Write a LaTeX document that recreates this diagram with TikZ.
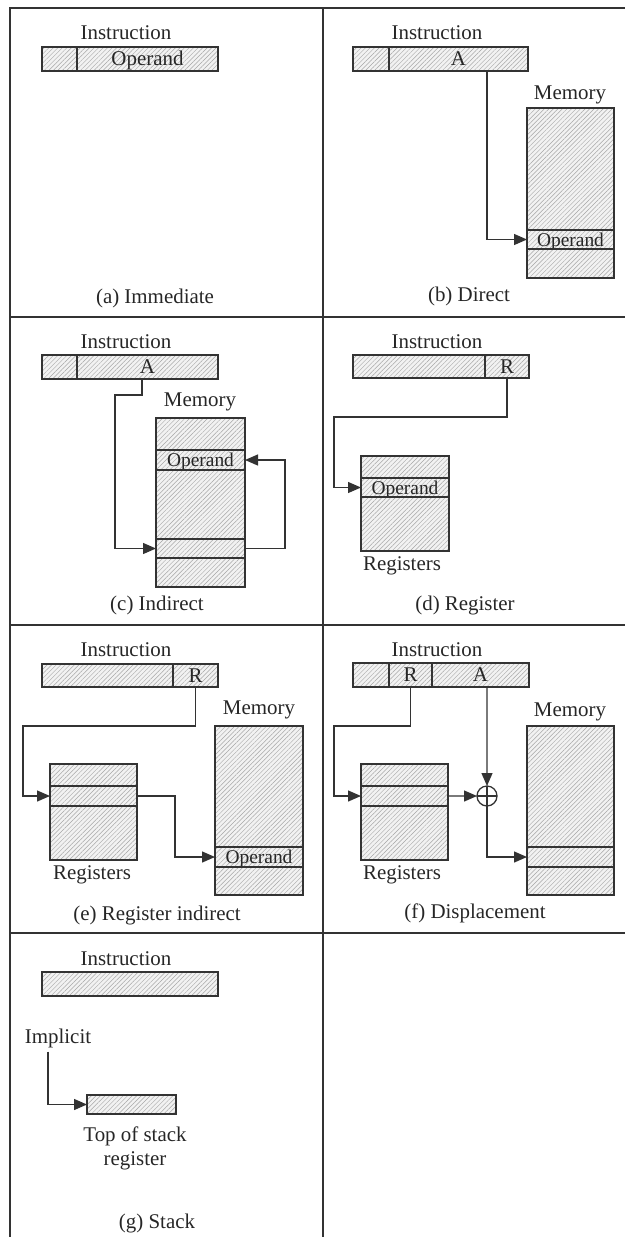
\documentclass[tikz,border=0pt]{standalone}
\usepackage{fontspec}
\setmainfont{Liberation Serif}
\usetikzlibrary{patterns.meta,arrows.meta}
\newcommand\figfont{\fontsize{21}{24}\selectfont}
\newcommand\mkfld[6]{%
 \pgfmathsetmacro\fldw{#4-#2}\pgfmathsetmacro\fldh{#5-#3}%
 \node[fld,minimum width=\fldw bp,minimum height=\fldh bp,anchor=north west] (#1) at (#2,#3) {#6};}
\begin{document}
\begin{tikzpicture}[x=1bp,y=-1bp,
  ln/.style={draw=black!80,line width=1.3bp},
  fr/.style={draw=black!80,line width=2.6bp},
  fld/.style={ln,rectangle,inner sep=0pt,outer sep=0pt,
    preaction={fill=black!5},
    pattern={Lines[angle=45,distance=3.2bp,line width=0.45bp]},pattern color=black!35,
    text=black!85,font=\figfont,text height=13.5bp,text depth=0bp},
  mfld/.style={fld,font=\fontsize{19.5}{22}\selectfont},
  lbl/.style={inner sep=0pt,text=black!85,font=\figfont},
  arr/.style={ln,-{Triangle[length=13bp,width=11bp]}}]
\useasboundingbox (0,0) rectangle (625,1237);
% frame
\draw[fr] (10,1237) -- (10,8) -- (625,8);
\draw[fr] (323,8) -- (323,1237);
\draw[fr] (10,317) -- (625,317);
\draw[fr] (10,625) -- (625,625);
\draw[fr] (10,933) -- (625,933);

% (a) Immediate
\node[lbl] (a-ins) at (126,33) {Instruction};
\mkfld{a1}{42}{47}{77}{71}{}
\mkfld{a2}{77}{47}{218}{71}{Operand}
\node[lbl] (a-cap) at (155,298) {(a) Immediate};

% (b) Direct
\node[lbl] (b-ins) at (437,33) {Instruction};
\mkfld{b1}{353}{47}{389}{71}{}
\mkfld{b2}{389}{47}{528}{71}{A}
\node[lbl] (b-mem) at (570,95) {Memory};
\mkfld{bm1}{527}{108}{614}{230}{}
\mkfld{bop}{527}{230}{614}{249}{\fontsize{19.5}{22}\selectfont Operand}
\mkfld{bm2}{527}{249}{614}{278}{}
\draw[arr] ([xshift=28.5bp]b2.south) |- (bop.west);
\node[lbl] (b-cap) at (469,296) {(b) Direct};

% (c) Indirect
\node[lbl] (c-ins) at (126,342) {Instruction};
\mkfld{c1}{42}{355}{77}{379}{}
\mkfld{c2}{77}{355}{218}{379}{A}
\node[lbl] (c-mem) at (200,402) {Memory};
\mkfld{cm1}{156}{418}{245}{450}{}
\mkfld{cop}{156}{450}{245}{470}{\fontsize{19.5}{22}\selectfont Operand}
\mkfld{cm2}{156}{470}{245}{539}{}
\mkfld{cptr}{156}{539}{245}{558}{}
\mkfld{cm3}{156}{558}{245}{587}{}
\draw[arr] ([xshift=-5.5bp]c2.south) -- ++(0,16) -| ([xshift=-41bp]cptr.west) -- (cptr.west);
\draw[arr] (cptr.east) -- ++(40,0) |- (cop.east);
\node[lbl] (c-cap) at (157,605) {(c) Indirect};

% (d) Register
\node[lbl] (d-ins) at (437,342) {Instruction};
\mkfld{d1}{353}{355}{485}{378}{}
\mkfld{d2}{485}{355}{529}{378}{R}
\mkfld{dr1}{361}{456}{449}{478}{}
\mkfld{dop}{361}{478}{449}{497}{\fontsize{19.5}{22}\selectfont Operand}
\mkfld{dr2}{361}{497}{449}{551}{}
\draw[arr] (d2.south) -- ++(0,39) -| ([xshift=-27bp]dop.west) -- (dop.west);
\node[lbl] (d-reg) at (402,566) {Registers};
\node[lbl] (d-cap) at (465,605) {(d) Register};

% (e) Register indirect
\node[lbl] (e-ins) at (126,650) {Instruction};
\mkfld{e1}{42}{664}{173}{687}{}
\mkfld{e2}{173}{664}{218}{687}{R}
\mkfld{er1}{50}{764}{137}{786}{}
\mkfld{erp}{50}{786}{137}{806}{}
\mkfld{er2}{50}{806}{137}{860}{}
\node[lbl] (e-reg) at (92,875) {Registers};
\node[lbl] (e-mem) at (259,710) {Memory};
\mkfld{em1}{215}{726}{303}{847}{}
\mkfld{eop}{215}{847}{303}{867}{\fontsize{19.5}{22}\selectfont Operand}
\mkfld{em2}{215}{867}{303}{895}{}
\draw[arr] (e2.south) -- ++(0,39) -| ([xshift=-27bp]erp.west) -- (erp.west);
\draw[arr] (erp.east) -- ++(38,0) |- (eop.west);
\node[lbl] (e-cap) at (157,915) {(e) Register indirect};

% (f) Displacement
\node[lbl] (f-ins) at (437,650) {Instruction};
\mkfld{f1}{353}{663}{389}{687}{}
\mkfld{f2}{389}{663}{432}{687}{R}
\mkfld{f3}{432}{663}{529}{687}{A}
\mkfld{fr1}{361}{764}{448}{786}{}
\mkfld{frp}{361}{786}{448}{806}{}
\mkfld{fr2}{361}{806}{448}{860}{}
\node[lbl] (f-reg) at (402,875) {Registers};
\node[circle,ln,fill=white,minimum size=20bp,inner sep=0pt,outer sep=0pt] (add) at (487,796) {};
\draw[ln] (add.north) -- (add.south) (add.west) -- (add.east);
\node[lbl] (f-mem) at (570,712) {Memory};
\mkfld{fm1}{527}{726}{614}{847}{}
\mkfld{fmp}{527}{847}{614}{867}{}
\mkfld{fm2}{527}{867}{614}{895}{}
\draw[arr] (f2.south) -- ++(0,39) -| ([xshift=-27bp]frp.west) -- (frp.west);
\draw[arr] ([xshift=6.5bp]f3.south) -- (add.north);
\draw[arr] (frp.east) -- (add.west);
\draw[arr] (add.south) |- (fmp.west);
\node[lbl] (f-cap) at (475,913) {(f) Displacement};

% (g) Stack
\node[lbl] (g-ins) at (126,959) {Instruction};
\mkfld{g1}{42}{972}{218}{996}{}
\node[lbl] (impl) at (58,1038) {Implicit};
\mkfld{tos}{87}{1095}{176}{1114}{}
\draw[arr] ([xshift=-10bp,yshift=-4bp]impl.south) |- (tos.west);
\node[lbl,align=center] (tos-l) at (135,1148) {Top of stack\\register};
\node[lbl] (g-cap) at (157,1223) {(g) Stack};
\end{tikzpicture}
\end{document}
